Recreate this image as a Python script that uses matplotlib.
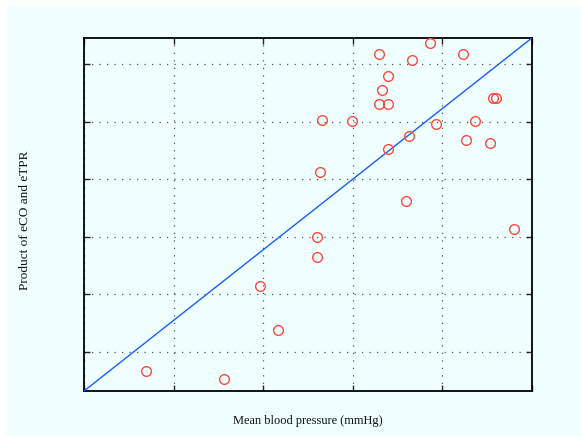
import matplotlib
matplotlib.use("Agg")
import matplotlib.pyplot as plt
from matplotlib.patches import Rectangle

# Data
bp = [98.66, 92.96, 102.35, 96.68, 94.0, 93.33, 92.96, 94.0, 105.66, 106.03,
      86.63, 89.98, 99.33, 103.65, 96.31, 102.68, 105.33, 94.0, 86.34, 95.98,
      108.01, 86.0, 86.0, 79.63, 81.68, 66.93, 75.61]
product = [123.59, 121.79, 121.68, 120.64, 117.97, 115.49, 113.11, 113.06, 114.05, 114.10,
           110.23, 110.05, 109.58, 110.16, 107.45, 106.81, 106.28, 105.24, 101.25, 96.16,
           91.41, 90.02, 86.44, 81.51, 73.82, 66.70, 65.31]
line_x = [60, 110]
line_y = [63.23, 124.46]
x_ticks = [60, 70, 80, 90, 100, 110]
y_ticks = [70, 80, 90, 100, 110, 120]
x_label = "Mean blood pressure (mmHg)"
y_label = "Product of eCO and eTPR"

bg = "#f0ffff"
W, H = 581, 436
fig = plt.figure(figsize=(W / 100, H / 100), dpi=100, facecolor="white")
fig.patches.append(Rectangle((7 / W, 0), 1 - 7 / W, 1 - 6 / H, transform=fig.transFigure,
                             facecolor=bg, edgecolor="none", zorder=-10))

l, r, t, b = 84, 531.5, 38.3, 391
ax = fig.add_axes([l / W, 1 - b / H, (r - l) / W, (b - t) / H])
ax.set_facecolor(bg)

ax.plot(line_x, line_y, color="#1a5cff", lw=1.0, zorder=3)
ax.plot(bp, product, linestyle="none", marker="o", markersize=7.0,
        markerfacecolor="none", markeredgecolor="#ff4a3a", markeredgewidth=1.0, zorder=4)

ax.set_xlim(60, 110)
ax.set_ylim(63.23, 124.46)
ax.set_xticks(x_ticks)
ax.set_yticks(y_ticks)
ax.set_xticklabels([])
ax.set_yticklabels([])
ax.tick_params(direction="in", length=4, width=1.0, top=True, right=True, color="#222222")
ax.grid(True, color="#555555", linestyle=(0, (1, 5)), linewidth=0.9)
for s in ax.spines.values():
    s.set_linewidth(1.3)
    s.set_color("black")

fam = ["Liberation Serif", "DejaVu Serif"]
fig.text((l + r) / 2 / W, 1 - 420.5 / H, x_label, ha="center", va="center",
         family=fam, size=8.9, color="#111111")
fig.text(25.5 / W, 1 - 220.5 / H, y_label, ha="center", va="center", rotation=90,
         family=fam, size=9.5, color="#111111")

fig.savefig("out.png", dpi=100, facecolor=fig.get_facecolor())
